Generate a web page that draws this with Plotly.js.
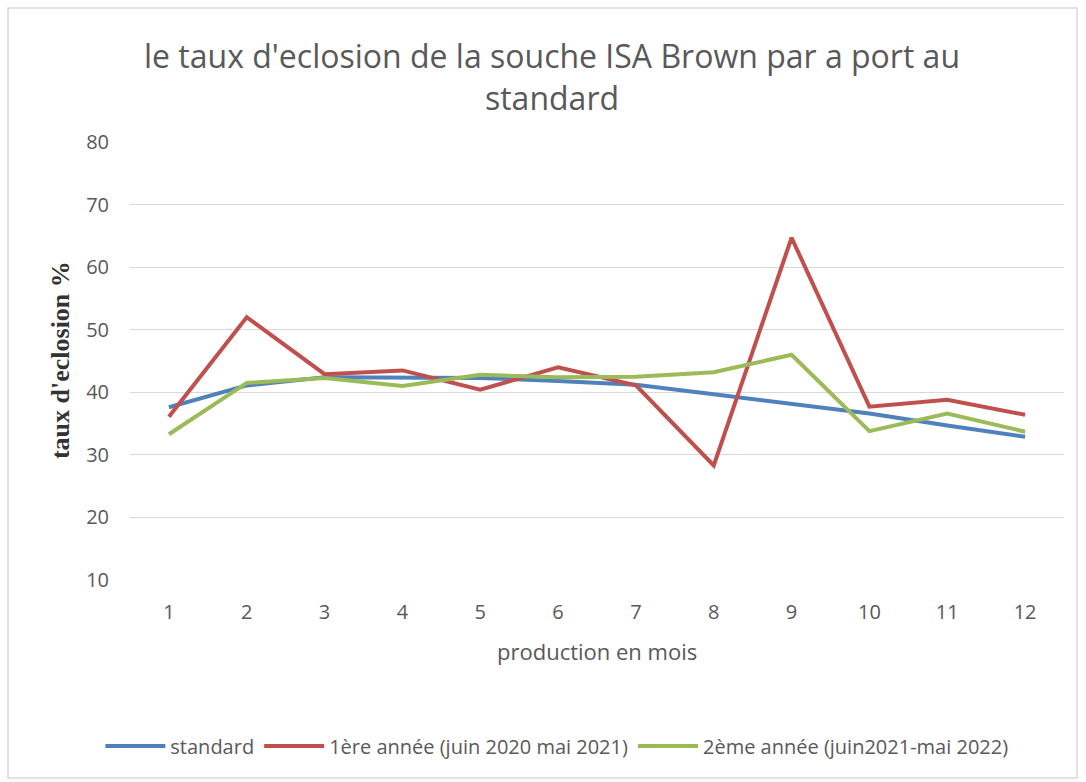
<!DOCTYPE html>
<html>
<head>
<meta charset="utf-8">
<script src="https://cdn.plot.ly/plotly-3.0.1.min.js"></script>
<style>html,body{margin:0;padding:0;background:#fff;}#chart{width:1086px;height:782px;}</style>
</head>
<body>
<div id="chart"></div>
<script>
const months = ["1","2","3","4","5","6","7","8","9","10","11","12"];
const standard = [37.6, 41.1, 42.4, 42.4, 42.3, 41.8, 41.2, 39.7, 38.2, 36.6, 34.7, 32.9];
const annee1 = [36.1, 52.0, 42.9, 43.5, 40.4, 44.0, 41.1, 28.3, 64.7, 37.7, 38.8, 36.4];
const annee2 = [33.3, 41.5, 42.3, 41.0, 42.8, 42.4, 42.5, 43.2, 46.0, 33.8, 36.6, 33.7];
const seriesNames = ["standard", "1ère année (juin 2020 mai 2021)", "2ème année (juin2021-mai 2022)"];
const yTicks = [10, 20, 30, 40, 50, 60, 70, 80];
const titleText = "le taux d'eclosion de la souche ISA Brown par a port au<br>standard";

const font = "Open Sans, Liberation Sans, Arial, sans-serif";
const gray = "#595959";
const mk = (y, name, color) => ({
  x: months, y: y, name: name, type: "scatter", mode: "lines",
  line: {color: color, width: 4}
});

const data = [
  mk(standard, seriesNames[0], "#4F81BD"),
  mk(annee1, seriesNames[1], "#C0504D"),
  mk(annee2, seriesNames[2], "#9BBB59")
];

const layout = {
  width: 1086, height: 782,
  margin: {l: 130, r: 22, t: 142, b: 202},
  paper_bgcolor: "#fff", plot_bgcolor: "#fff",
  font: {family: font, color: gray, size: 19},
  xaxis: {
    type: "category",
    range: [-0.5, 11.5],
    showgrid: false, zeroline: false, showline: false,
    ticks: "", ticklabelstandoff: 18,
    tickfont: {family: font, size: 20, color: gray},
    fixedrange: true
  },
  yaxis: {
    range: [10, 80],
    tickvals: yTicks,
    showgrid: true, gridcolor: "#d9d9d9", gridwidth: 1,
    zeroline: false, showline: false,
    ticks: "", ticklabelstandoff: 20,
    tickfont: {family: font, size: 20, color: gray},
    fixedrange: true
  },
  showlegend: true,
  legend: {
    orientation: "h", x: 0.457, xanchor: "center", y: -0.379, yanchor: "middle",
    font: {family: font, size: 20, color: gray},
    itemwidth: 60, tracegroupgap: 0
  },
  annotations: [
    {text: titleText, showarrow: false, align: "center",
     xref: "paper", yref: "paper", x: 0.452, y: 1.1495, xanchor: "center", yanchor: "middle",
     font: {family: font, size: 32, color: gray}},
    {text: "<b>taux d'eclosion %</b>", textangle: -90, showarrow: false,
     xref: "paper", yref: "paper", x: -0.075, y: 0.502, xanchor: "center", yanchor: "middle",
     font: {family: "Liberation Serif, Times New Roman, serif", size: 26, color: "#333333"}},
    {text: "production en mois", showarrow: false,
     xref: "paper", yref: "paper", x: 0.5, y: -0.162, xanchor: "center", yanchor: "middle",
     font: {family: font, size: 22, color: gray}}
  ],
  shapes: [
    {type: "rect", xref: "paper", yref: "paper", x0: -0.1306, x1: 1.0139, y0: -0.452, y1: 1.306,
     line: {color: "#d9d9d9", width: 1.5}, fillcolor: "rgba(0,0,0,0)", layer: "below"}
  ]
};

Plotly.newPlot("chart", data, layout, {displayModeBar: false, staticPlot: true});
</script>
</body>
</html>
